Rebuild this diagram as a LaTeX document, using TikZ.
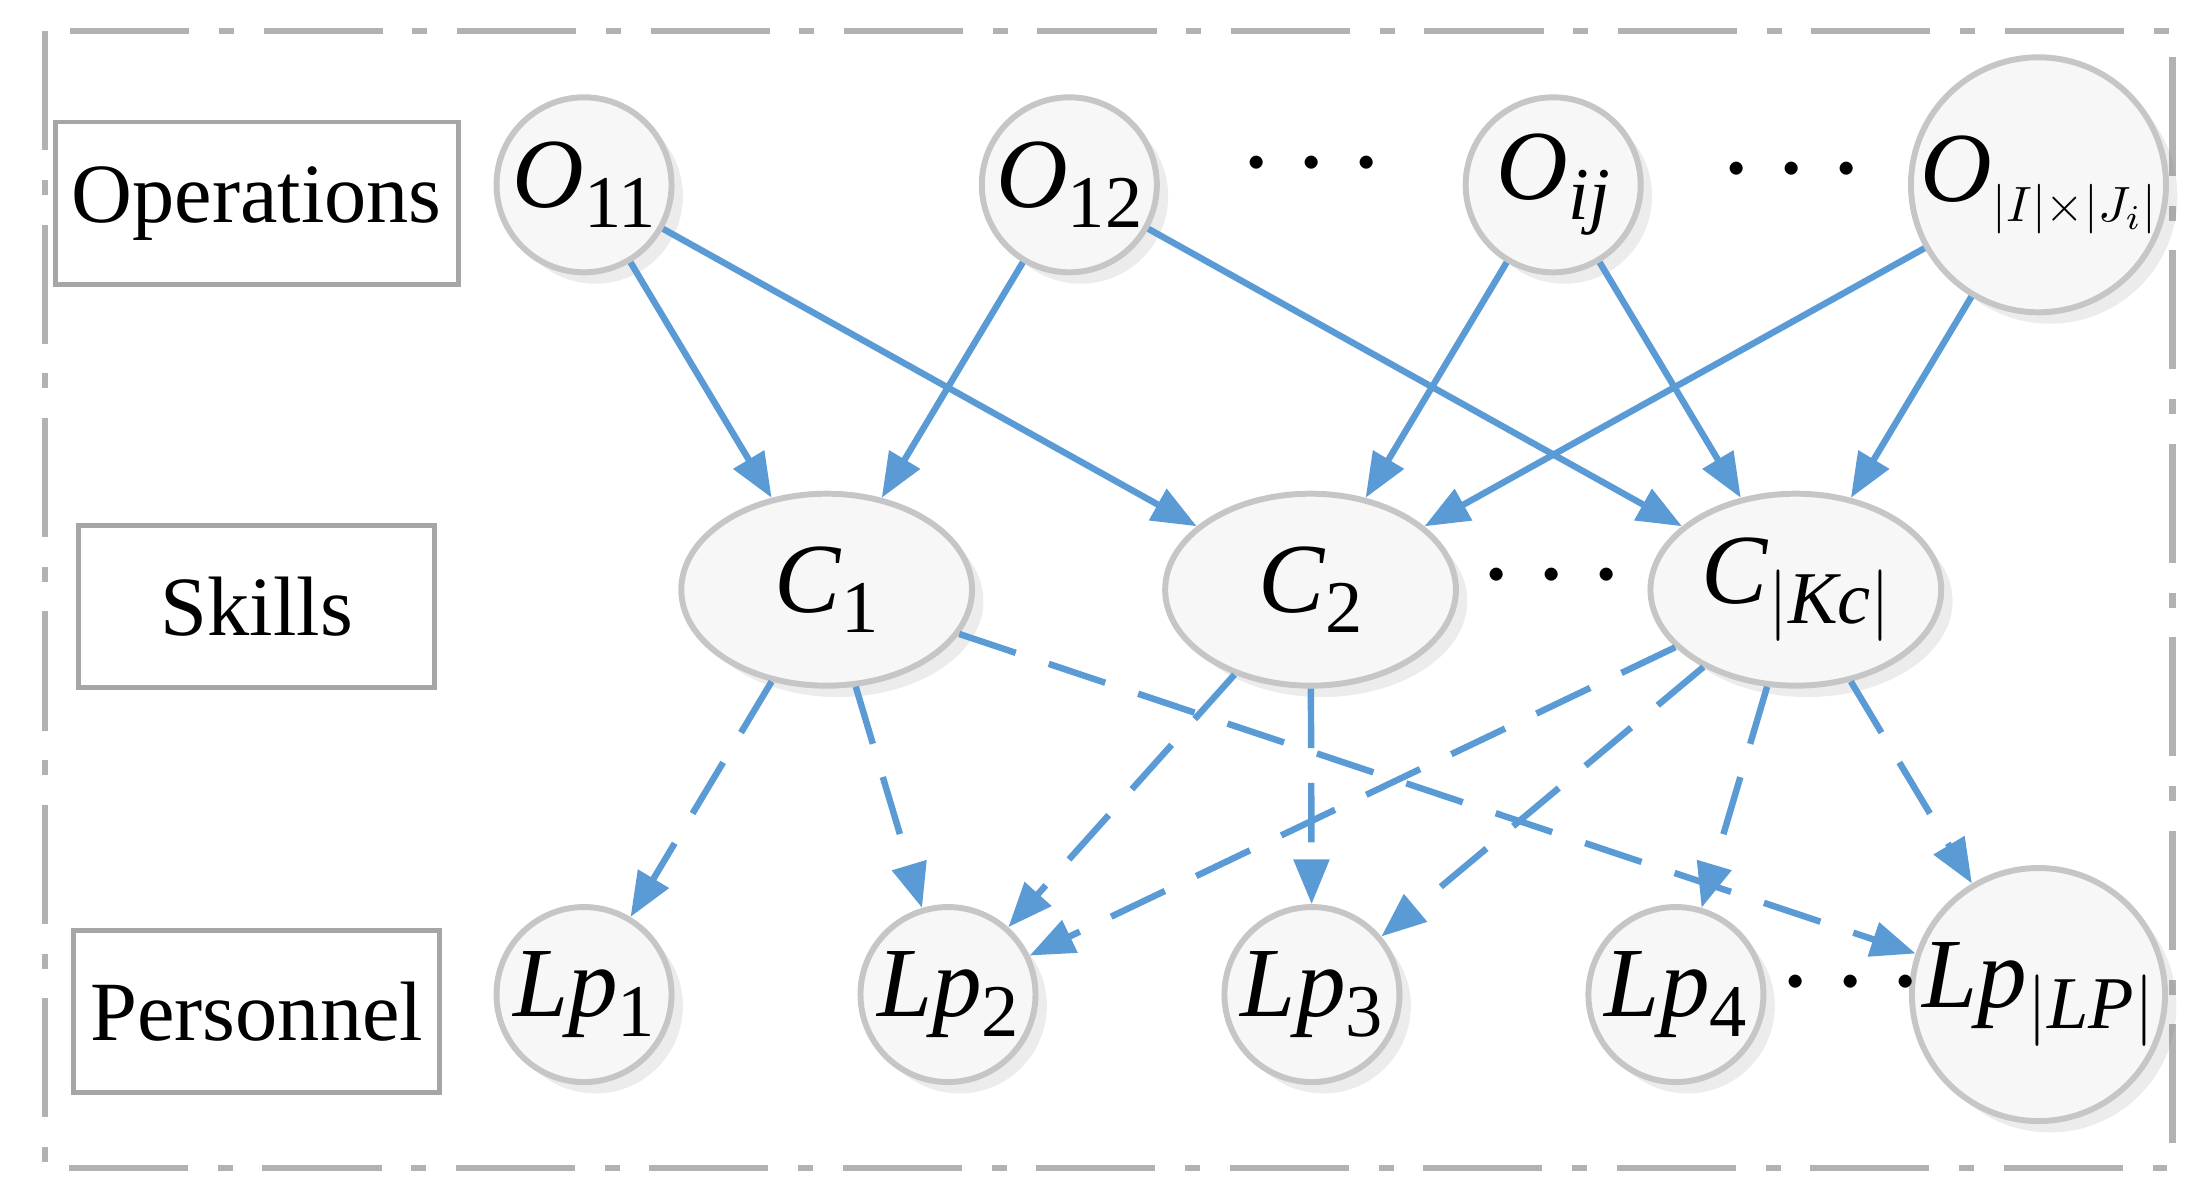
\documentclass[tikz,border=0pt]{standalone}
\usepackage{fontspec}
\setmainfont{Liberation Serif}
\usetikzlibrary{arrows.meta,shadows,shapes.geometric}
\definecolor{eb}{RGB}{91,155,213}
\newcommand{\V}[2]{\fontsize{20}{22}\selectfont\textit{#1}\raisebox{-0.45ex}{\fontsize{15}{16}\selectfont #2}}
\begin{document}
\begin{tikzpicture}[x=0.01cm,y=-0.01cm,
 nd/.style={circle,draw=gray!45,line width=1.2pt,fill=gray!6,minimum size=1.24cm,inner sep=0pt,drop shadow={opacity=0.15}},
 el/.style={ellipse,draw=gray!45,line width=1.2pt,fill=gray!6,minimum width=2.06cm,minimum height=1.36cm,inner sep=0pt,drop shadow={opacity=0.15}},
 lb/.style={draw=gray!70,line width=1pt,minimum width=2.52cm,minimum height=1.15cm,font=\fontsize{17}{20}\selectfont},
 s/.style={eb,line width=1.3pt,-{Triangle[length=9pt,width=7pt]}},
 d/.style={s,dash pattern=on 12pt off 7pt},
 dt/.style={font=\fontsize{26}{26}\selectfont}]
\useasboundingbox (0,0) rectangle (1568,848);
\draw[gray!60,line width=1.3pt,dash pattern=on 24pt off 6pt on 3pt off 6pt] (32,22) rectangle (1540,828);
\node[lb] (op) at (182,144) {Operations};
\node[lb] (sk) at (182,430) {Skills};
\node[lb] (pe) at (182,717) {Personnel};
\node[nd] (o1) at (414,131) {\V{O}{11}};
\node[nd] (o2) at (758,131) {\V{O}{12}};
\node[nd] (oi) at (1101,131) {\V{O}{\textit{ij}}};
\node[nd] (on) at (1445,131) {\V{O}{\fontsize{10}{10}\selectfont$|I|{\times}|J_i|$}};
\node[el] (c1) at (586,418) {\V{C}{1}};
\node[el] (c2) at (929,418) {\V{C}{2}};
\node[el] (ck) at (1273,418) {\V{C}{$|$\textit{Kc}$|$}};
\node[nd] (l1) at (414,705) {\V{Lp}{1}};
\node[nd] (l2) at (672,705) {\V{Lp}{2}};
\node[nd] (l3) at (930,705) {\V{Lp}{3}};
\node[nd] (l4) at (1188,705) {\V{Lp}{4}};
\node[nd] (ln) at (1445,705) {\V{Lp}{$|$\textit{LP}$|$}};
\node[dt] (d1) at (930,118) {$\cdots$};
\node[dt] (d2) at (1270,122) {$\cdots$};
\node[dt] (d3) at (1100,410) {$\cdots$};
\node[dt] (d4) at (1312,698) {$\cdots$};
\draw[s] (o1) -- (c1); \draw[s] (o1) -- (c2);
\draw[s] (o2) -- (c1); \draw[s] (o2) -- (ck);
\draw[s] (oi) -- (c2); \draw[s] (oi) -- (ck);
\draw[s] (on) -- (c2); \draw[s] (on) -- (ck);
\draw[d] (c1) -- (l1); \draw[d] (c1) -- (l2); \draw[d] (c1) -- (ln);
\draw[d] (c2) -- (l2); \draw[d] (c2) -- (l3);
\draw[d] (ck) -- (l2); \draw[d] (ck) -- (l3); \draw[d] (ck) -- (l4); \draw[d] (ck) -- (ln);
\end{tikzpicture}
\end{document}
